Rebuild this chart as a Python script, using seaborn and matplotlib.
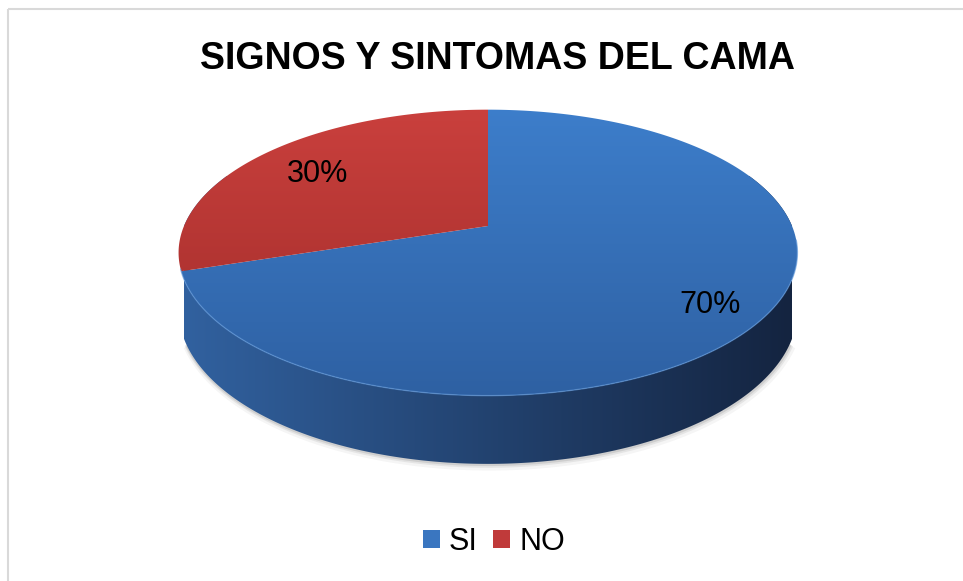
import numpy as np
import matplotlib
matplotlib.use("Agg")
import matplotlib.pyplot as plt
import seaborn as sns
from matplotlib.patches import Polygon, Patch, Rectangle
from matplotlib.colors import to_rgb

# ---- data ----
categories = ["SI", "NO"]
values = [70, 30]
labels = ["70%", "30%"]
title = "SIGNOS Y SINTOMAS DEL CAMA"

sns.set_theme(style="white")
plt.rcParams['font.family'] = ['Liberation Sans', 'DejaVu Sans']
plt.rcParams['text.color'] = 'black'

W, H = 963, 581
fig = plt.figure(figsize=(W / 100, H / 100), dpi=100)
fig.patch.set_facecolor("white")
ax = fig.add_axes([0, 0, 1, 1])
ax.set_xlim(0, W)
ax.set_ylim(H, 0)
ax.axis("off")

# chart border
ax.add_patch(Rectangle((8, 9), 980, 600, fill=False, edgecolor="#D9D9D9", lw=1.5, zorder=0))

# ---- 3D pie projection ----
CX, CY, R = 488, 226, 304
ELEV = np.radians(27)
DIST = 4.78
THICK = 0.205


def proj(t, hgt=0.0):
    u = np.cos(t)
    v = np.sin(t)
    yup = v * np.sin(ELEV) + hgt * np.cos(ELEV)
    s = DIST / (DIST + v * np.cos(ELEV))
    return CX + R * u * s, CY - R * yup * s


def grad_fill(poly_xy, c0, c1, direction, zorder, lims):
    pts = np.asarray(poly_xy)
    patch = Polygon(pts, closed=True, facecolor="none", edgecolor="none")
    ax.add_patch(patch)
    n = 256
    a = np.array(to_rgb(c0))
    b = np.array(to_rgb(c1))
    f = np.linspace(0, 1, n)[:, None]
    cols = a * (1 - f) + b * f
    x0, x1 = pts[:, 0].min() - 2, pts[:, 0].max() + 2
    y0, y1 = pts[:, 1].min() - 2, pts[:, 1].max() + 2
    lo, hi = lims
    if direction == "v":
        img = cols[:, None, :]
        extent = (x0, x1, hi, lo)
    else:
        img = cols[None, :, :]
        extent = (lo, hi, y1, y0)
    im = ax.imshow(img, extent=extent, aspect="auto", origin="upper",
                   interpolation="bilinear", zorder=zorder)
    im.set_clip_path(patch)
    ax.set_xlim(0, W)
    ax.set_ylim(H, 0)


top_cols = {"SI": ("#3D7ECB", "#2E60A2"), "NO": ("#CA403D", "#9E2B29")}
side_cols = ("#31619F", "#142440")
legend_cols = {"SI": "#3A76C0", "NO": "#C03A3A"}

start = np.pi / 2
cum = 0.0
total = float(sum(values))
spans = []
for cat, val in zip(categories, values):
    t0 = start - 2 * np.pi * cum / total
    t1 = t0 - 2 * np.pi * val / total
    spans.append((cat, t0, t1))
    cum += val

# soft shadow under the front bottom edge
ts_sh = np.linspace(-0.4, -np.pi + 0.4, 400)
sx, sy = proj(ts_sh, -THICK)
for off, lw, al in [(2.5, 6, 0.06), (1.5, 3.5, 0.10), (0.8, 2, 0.15)]:
    ax.plot(sx + off * 0.6, sy + off, color="#555555", lw=lw, alpha=al,
            solid_capstyle="butt", zorder=1)

# visible side wall (front half, slightly extended to form the silhouette)
EXT = 0.4
ts = np.linspace(EXT, -np.pi - EXT, 600)
tx, ty = proj(ts, 0.0)
bx, by = proj(ts[::-1], -THICK)
poly = np.column_stack([np.concatenate([tx, bx]), np.concatenate([ty, by])])
grad_fill(poly, side_cols[0], side_cols[1], "h", 2, (CX - R, CX + R))

# top faces
for cat, t0, t1 in spans:
    ts = np.linspace(t0, t1, 300)
    ex, ey = proj(ts, 0.0)
    poly = np.column_stack([np.concatenate([[CX], ex]), np.concatenate([[CY], ey])])
    grad_fill(poly, top_cols[cat][0], top_cols[cat][1], "v", 3, (CY - 120, CY + 175))

# rim highlight along the front top edge
ts = np.linspace(-0.1, -np.pi + 0.3, 200)
rx, ry = proj(ts, 0.0)
ax.plot(rx, ry, color="#5C95D8", lw=1.0, alpha=0.6, zorder=4)

# labels
ax.text(710, 313, labels[0], ha="center", va="baseline", fontsize=22, color="black", zorder=5)
ax.text(318, 182, labels[1], ha="center", va="baseline", fontsize=22, color="black", zorder=5)

# title
ax.text(497, 69, title, ha="center", va="baseline", fontsize=27, fontweight="bold",
        color="black", zorder=5)

# legend
handles = [Patch(facecolor=legend_cols[c], edgecolor="none") for c in categories]
leg = fig.legend(handles, categories, loc="center", bbox_to_anchor=(494 / W, 1 - 542 / H),
                 ncol=2, frameon=False, fontsize=22, handlelength=0.55, handleheight=0.55,
                 handletextpad=0.3, columnspacing=0.5)
for t in leg.get_texts():
    t.set_color("black")

fig.savefig("out.png", dpi=100, facecolor="white")
